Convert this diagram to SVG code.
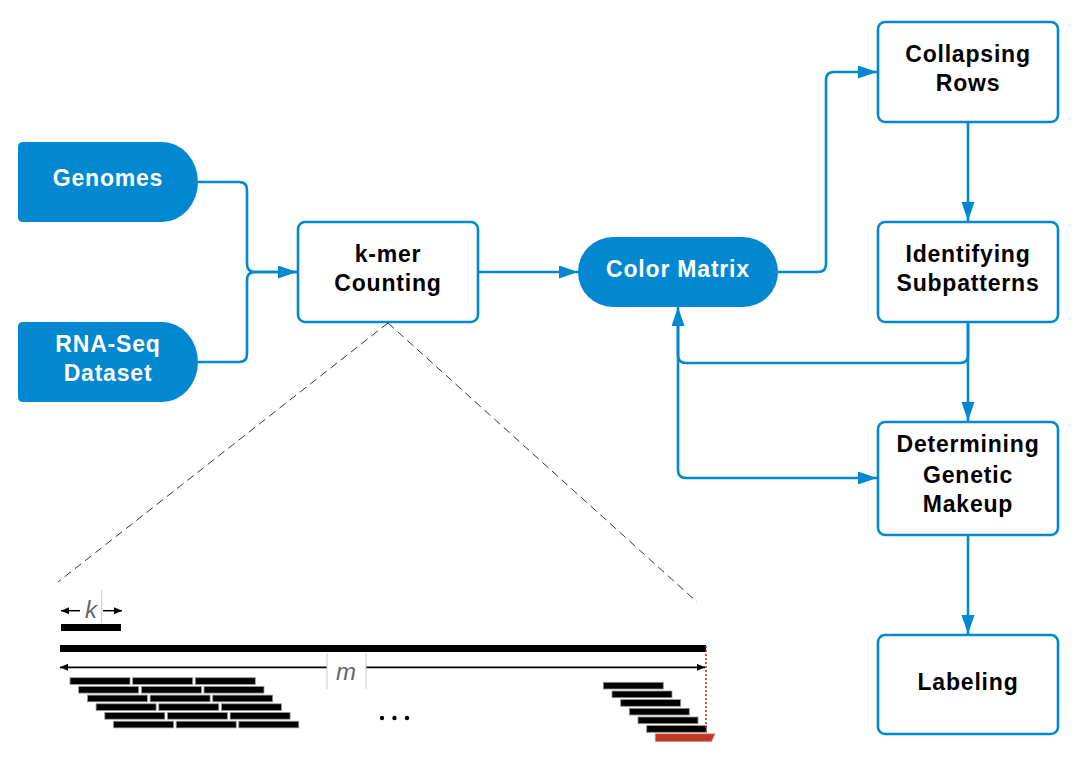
<svg xmlns="http://www.w3.org/2000/svg" width="1077" height="757" viewBox="0 0 1077 757">
<defs>
<style>
.box{fill:#fff;stroke:#0288D1;stroke-width:2.6}
.term{fill:#0288D1;stroke:none}
.lbl{font-family:"Liberation Sans",Arial,sans-serif;font-weight:bold;font-size:23px;letter-spacing:0.8px;text-anchor:middle;fill:#000}
.wl{fill:#fff}
.con{fill:none;stroke:#0288D1;stroke-width:2.6}
.read{fill:#000;stroke:#999;stroke-width:0.8}
.it{font-family:"Liberation Sans",Arial,sans-serif;font-style:italic;font-size:24px;fill:#666;text-anchor:middle}
</style>
<marker id="ah" markerUnits="userSpaceOnUse" markerWidth="20" markerHeight="14" refX="19" refY="6.5" orient="auto">
<path d="M0,0 L19,6.5 L0,13 Z" fill="#0288D1"/>
</marker>
<marker id="sa" markerUnits="userSpaceOnUse" markerWidth="10" markerHeight="8" refX="8" refY="3.5" orient="auto-start-reverse">
<path d="M0,0 L8,3.5 L0,7 Z" fill="#000"/>
</marker>
</defs>
<rect width="1077" height="757" fill="#fff"/>

<g id="connectors">
<path class="con" d="M198,182 H239 Q247,182 247,190 V264 Q247,272 255,272 H297" marker-end="url(#ah)"/>
<path class="con" d="M198,362 H239 Q247,362 247,354 V280 Q247,272 255,272 H297"/>
<path class="con" d="M479,272 H578" marker-end="url(#ah)"/>
<path class="con" d="M778,272 H818 Q826,272 826,264 V80 Q826,72 834,72 H877" marker-end="url(#ah)"/>
<path class="con" d="M968,122 V221" marker-end="url(#ah)"/>
<path class="con" d="M968,322 V421" marker-end="url(#ah)"/>
<path class="con" d="M968,322 V355 Q968,363 960,363 H686 Q678,363 678,355 V307" marker-end="url(#ah)"/>
<path class="con" d="M678,320 V470 Q678,478 686,478 H877" marker-end="url(#ah)"/>
<path class="con" d="M968,535 V634" marker-end="url(#ah)"/>
</g>

<g id="genomes">
<path class="term" d="M23,142 H162 A36,40 0 0 1 162,222 H23 Q18,222 18,217 V147 Q18,142 23,142 Z"/>
<text class="lbl wl" x="108" y="186">Genomes</text>
</g>
<g id="rnaseq">
<path class="term" d="M23,322 H162 A36,40 0 0 1 162,402 H23 Q18,402 18,397 V327 Q18,322 23,322 Z"/>
<text class="lbl wl" x="108" y="352">RNA-Seq</text>
<text class="lbl wl" x="108" y="381">Dataset</text>
</g>
<g id="kmer">
<rect class="box" x="298" y="222" width="180" height="100" rx="7"/>
<text class="lbl" x="388" y="262">k-mer</text>
<text class="lbl" x="388" y="291">Counting</text>
</g>
<g id="colormatrix">
<rect class="term" x="578" y="237" width="200" height="70" rx="35"/>
<text class="lbl wl" x="678" y="277">Color Matrix</text>
</g>
<g id="collapsing">
<rect class="box" x="878" y="22" width="180" height="100" rx="7"/>
<text class="lbl" x="968" y="62">Collapsing</text>
<text class="lbl" x="968" y="91">Rows</text>
</g>
<g id="identifying">
<rect class="box" x="878" y="222" width="180" height="100" rx="7"/>
<text class="lbl" x="968" y="262">Identifying</text>
<text class="lbl" x="968" y="291">Subpatterns</text>
</g>
<g id="determining">
<rect class="box" x="878" y="422" width="180" height="113" rx="7"/>
<text class="lbl" x="968" y="452">Determining</text>
<text class="lbl" x="968" y="483">Genetic</text>
<text class="lbl" x="968" y="512">Makeup</text>
</g>
<g id="labeling">
<rect class="box" x="878" y="635" width="180" height="99" rx="7"/>
<text class="lbl" x="968" y="690">Labeling</text>
</g>

<g id="kmer-detail">
<line x1="388" y1="323" x2="58" y2="582" stroke="#333" stroke-width="1" stroke-dasharray="8,5"/>
<line x1="388" y1="323" x2="697" y2="602" stroke="#333" stroke-width="1" stroke-dasharray="8,5"/>
<line x1="101.5" y1="590" x2="101.5" y2="623" stroke="#ccc" stroke-width="1"/>
<text class="it" x="91" y="618">k</text>
<line x1="80" y1="610.7" x2="61" y2="610.7" stroke="#000" stroke-width="1.5" marker-end="url(#sa)"/>
<line x1="103" y1="610.7" x2="122" y2="610.7" stroke="#000" stroke-width="1.5" marker-end="url(#sa)"/>
<rect x="61" y="624" width="60" height="7" fill="#000"/>
<rect x="60" y="645" width="646" height="7" fill="#000"/>
<line x1="60" y1="667.3" x2="705" y2="667.3" stroke="#000" stroke-width="1.8" marker-start="url(#sa)" marker-end="url(#sa)"/>
<rect x="327" y="653" width="39" height="36" fill="#fff"/>
<line x1="327" y1="653" x2="327" y2="689" stroke="#ccc" stroke-width="1"/>
<line x1="366" y1="653" x2="366" y2="689" stroke="#ccc" stroke-width="1"/>
<text class="it" x="346" y="680">m</text>
<g>
<rect class="read" x="70" y="677.7" width="60" height="6.7"/><rect class="read" x="132.7" y="677.7" width="60" height="6.7"/><rect class="read" x="195.3" y="677.7" width="60" height="6.7"/>
<rect class="read" x="78.7" y="686.4" width="60" height="6.7"/><rect class="read" x="141.4" y="686.4" width="60" height="6.7"/><rect class="read" x="204" y="686.4" width="60" height="6.7"/>
<rect class="read" x="87.4" y="695.1" width="60" height="6.7"/><rect class="read" x="150.1" y="695.1" width="60" height="6.7"/><rect class="read" x="212.7" y="695.1" width="60" height="6.7"/>
<rect class="read" x="96.1" y="703.8" width="60" height="6.7"/><rect class="read" x="158.8" y="703.8" width="60" height="6.7"/><rect class="read" x="221.4" y="703.8" width="60" height="6.7"/>
<rect class="read" x="104.8" y="712.5" width="60" height="6.7"/><rect class="read" x="167.5" y="712.5" width="60" height="6.7"/><rect class="read" x="230.1" y="712.5" width="60" height="6.7"/>
<rect class="read" x="113.5" y="721.2" width="60" height="6.7"/><rect class="read" x="176.2" y="721.2" width="60" height="6.7"/><rect class="read" x="238.8" y="721.2" width="60" height="6.7"/>
</g>
<circle cx="382" cy="718" r="2.2" fill="#000"/>
<circle cx="394.5" cy="718" r="2.2" fill="#000"/>
<circle cx="407" cy="718" r="2.2" fill="#000"/>
<g>
<rect class="read" x="603.3" y="682.3" width="60" height="6.7"/>
<rect class="read" x="612" y="691" width="60" height="6.7"/>
<rect class="read" x="620.7" y="699.6" width="60" height="6.7"/>
<rect class="read" x="629.3" y="708.3" width="60" height="6.7"/>
<rect class="read" x="638" y="717" width="60" height="6.7"/>
<rect class="read" x="646.7" y="725.6" width="60" height="6.7"/>
</g>
<line x1="706" y1="646" x2="706" y2="733" stroke="#B03020" stroke-width="1.6" stroke-dasharray="2,2"/>
<path d="M655.3,733.8 H715 L711.5,741.5 H655.3 Z" fill="#BF3A22" stroke="#d98a7c" stroke-width="0.6"/>
</g>
</svg>
